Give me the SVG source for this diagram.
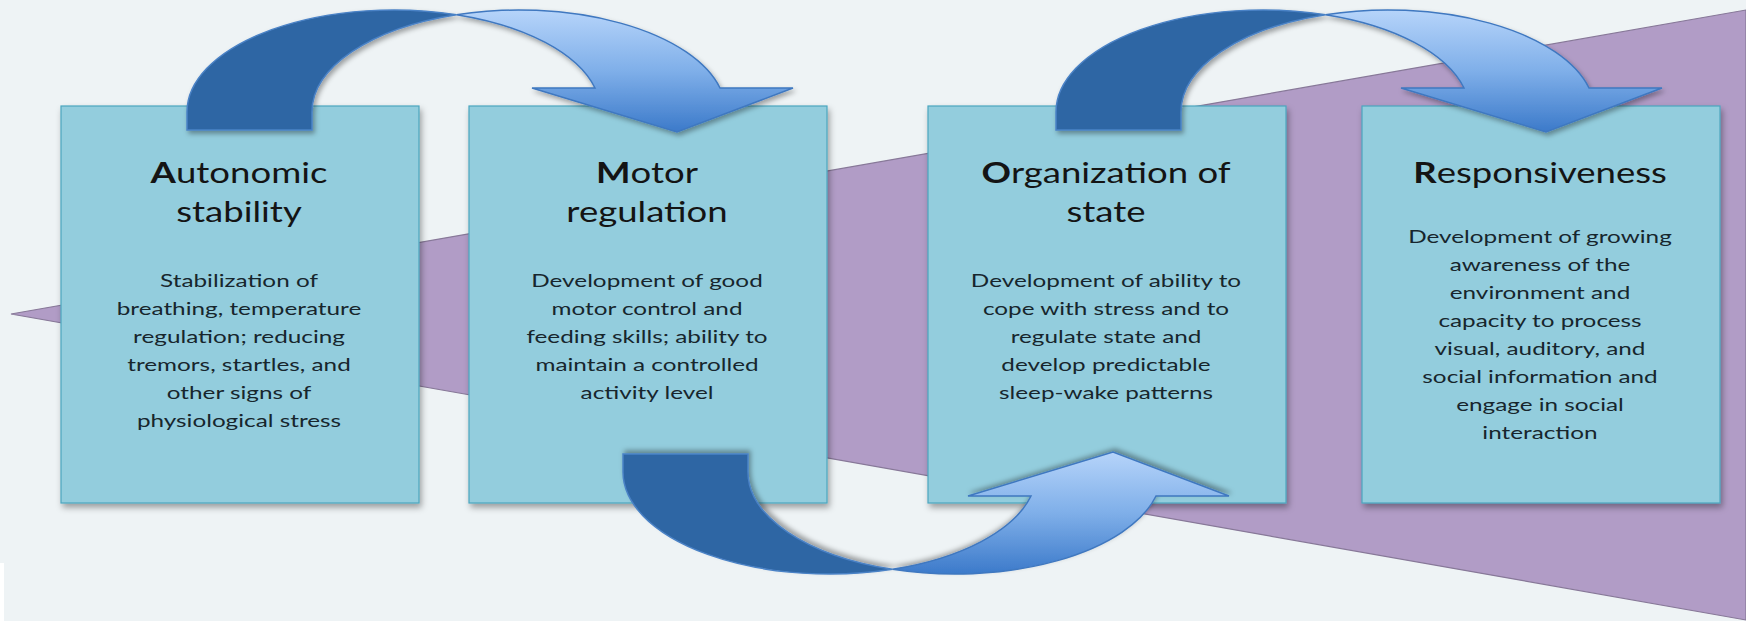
<svg xmlns="http://www.w3.org/2000/svg" width="1746" height="621" viewBox="0 0 1746 621">
<style>
.box{fill:#93cddd;stroke:#4aa6bf;stroke-width:1.2}
.t{font-family:Lato,"Open Sans","Liberation Sans",sans-serif;font-size:29px;fill:#141414;text-anchor:middle}
.b{font-family:Lato,"Open Sans","Liberation Sans",sans-serif;font-size:18px;fill:#17262d;text-anchor:middle}
.dk{fill:#2f66a4;stroke:#4a82c6;stroke-width:1.5}
.lt{stroke:#3f78c0;stroke-width:1.5}
</style>
<defs>
<filter id="sh" x="-10%" y="-10%" width="125%" height="130%">
<feDropShadow dx="2" dy="4" stdDeviation="3" flood-color="#000" flood-opacity="0.35"/>
</filter>
<filter id="ash" x="-10%" y="-10%" width="125%" height="130%">
<feDropShadow dx="2" dy="3" stdDeviation="2.5" flood-color="#000" flood-opacity="0.35"/>
</filter>
<linearGradient id="gDown" x1="0" y1="0" x2="0" y2="1">
<stop offset="0" stop-color="#b6d4fa"/>
<stop offset="0.5" stop-color="#7fafe9"/>
<stop offset="1" stop-color="#3c7aca"/>
</linearGradient>
<linearGradient id="gUp" x1="0" y1="0" x2="0" y2="1">
<stop offset="0" stop-color="#3c7aca"/>
<stop offset="0.5" stop-color="#7fafe9"/>
<stop offset="1" stop-color="#b6d4fa"/>
</linearGradient>
<path id="back" d="M187,130 L187,112 A207 102 0 0 1 456.5,14.7 A207 102 0 0 0 312,112 L312,130 Z"/>
<path id="front" d="M456.5,14.7 A207 102 0 0 1 720,88 L793,88 L677,132 L532,88 L595,88 A207 102 0 0 0 456.5,14.7 Z"/>
</defs>
<rect width="1746" height="621" fill="#eef3f5"/>
<rect x="0" y="563" width="4" height="58" fill="#ffffff"/>
<polygon points="11,314 1746,10 1746,620" fill="#b19cc6" stroke="#877898" stroke-width="1.2"/>

<g id="node-autonomic">
<rect class="box" x="61" y="106" width="358" height="397" filter="url(#sh)"/>
<g transform="translate(239,0) scale(1.26,1)">
<text class="t" x="0" y="183"><tspan font-weight="bold">A</tspan>utonomic</text>
<text class="t" x="0" y="222">stability</text>
</g>
<g transform="translate(239,0) scale(1.35,1)">
<text class="b" x="0" y="287">Stabilization of</text>
<text class="b" x="0" y="315">breathing, temperature</text>
<text class="b" x="0" y="343">regulation; reducing</text>
<text class="b" x="0" y="371">tremors, startles, and</text>
<text class="b" x="0" y="399">other signs of</text>
<text class="b" x="0" y="427">physiological stress</text>
</g>
</g>

<g id="node-motor">
<rect class="box" x="469" y="106" width="358" height="397" filter="url(#sh)"/>
<g transform="translate(647,0) scale(1.26,1)">
<text class="t" x="0" y="183"><tspan font-weight="bold">M</tspan>otor</text>
<text class="t" x="0" y="222">regulation</text>
</g>
<g transform="translate(647,0) scale(1.35,1)">
<text class="b" x="0" y="287">Development of good</text>
<text class="b" x="0" y="315">motor control and</text>
<text class="b" x="0" y="343">feeding skills; ability to</text>
<text class="b" x="0" y="371">maintain a controlled</text>
<text class="b" x="0" y="399">activity level</text>
</g>
</g>

<g id="node-organization">
<rect class="box" x="928" y="106" width="358" height="397" filter="url(#sh)"/>
<g transform="translate(1106,0) scale(1.26,1)">
<text class="t" x="0" y="183"><tspan font-weight="bold">O</tspan>rganization of</text>
<text class="t" x="0" y="222">state</text>
</g>
<g transform="translate(1106,0) scale(1.35,1)">
<text class="b" x="0" y="287">Development of ability to</text>
<text class="b" x="0" y="315">cope with stress and to</text>
<text class="b" x="0" y="343">regulate state and</text>
<text class="b" x="0" y="371">develop predictable</text>
<text class="b" x="0" y="399">sleep-wake patterns</text>
</g>
</g>

<g id="node-responsiveness">
<rect class="box" x="1362" y="106" width="358" height="397" filter="url(#sh)"/>
<g transform="translate(1540,0) scale(1.26,1)">
<text class="t" x="0" y="183"><tspan font-weight="bold">R</tspan>esponsiveness</text>
</g>
<g transform="translate(1540,0) scale(1.35,1)">
<text class="b" x="0" y="243">Development of growing</text>
<text class="b" x="0" y="271">awareness of the</text>
<text class="b" x="0" y="299">environment and</text>
<text class="b" x="0" y="327">capacity to process</text>
<text class="b" x="0" y="355">visual, auditory, and</text>
<text class="b" x="0" y="383">social information and</text>
<text class="b" x="0" y="411">engage in social</text>
<text class="b" x="0" y="439">interaction</text>
</g>
</g>

<g id="connectors">
<g id="arrow-a-m" filter="url(#ash)">
<use href="#back" class="dk"/>
<use href="#front" class="lt" fill="url(#gDown)"/>
</g>
<g id="arrow-m-o" filter="url(#ash)" transform="translate(436,584) scale(1,-1)">
<use href="#back" class="dk"/>
<use href="#front" class="lt" fill="url(#gUp)"/>
</g>
<g id="arrow-o-r" filter="url(#ash)" transform="translate(869,0)">
<use href="#back" class="dk"/>
<use href="#front" class="lt" fill="url(#gDown)"/>
</g>
</g>
</svg>
